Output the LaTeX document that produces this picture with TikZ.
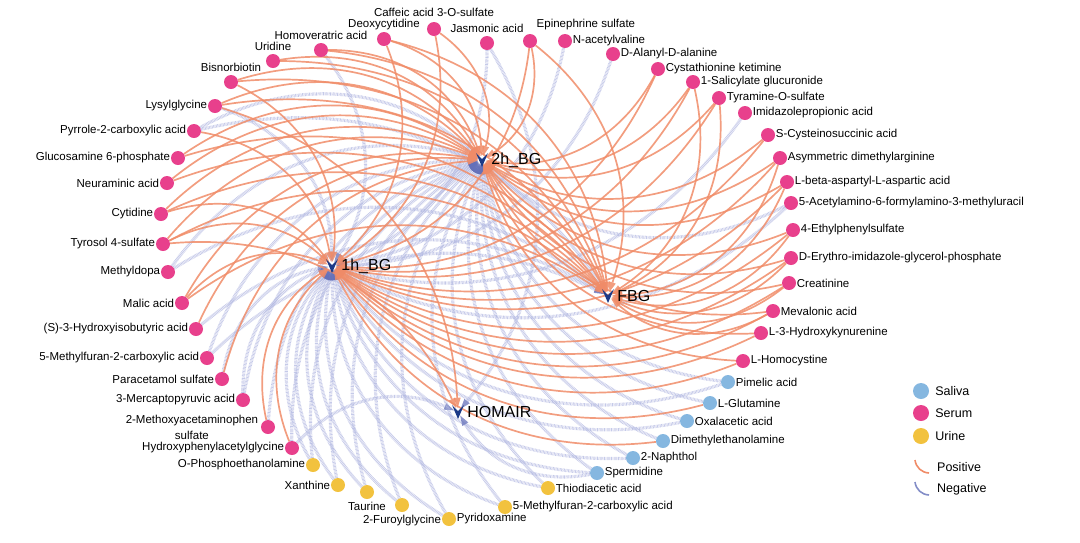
\documentclass[tikz,border=0pt]{standalone}
\usepackage{fontspec}
\setmainfont{Liberation Sans}
\usetikzlibrary{positioning,arrows.meta,backgrounds}
\definecolor{serumc}{RGB}{232,64,140}
\definecolor{salivac}{RGB}{133,183,224}
\definecolor{urinec}{RGB}{242,194,62}
\definecolor{posc}{RGB}{240,140,104}
\definecolor{negc}{RGB}{178,184,225}
\definecolor{negtip}{RGB}{100,112,185}
\definecolor{hubc}{RGB}{28,58,135}
\tikzset{
  dot/.style    = {circle, inner sep=0, minimum size=14pt},
  serum/.style  = {dot, fill=serumc},
  saliva/.style = {dot, fill=salivac},
  urine/.style  = {dot, fill=urinec},
  lab/.style    = {font=\fontsize{11.5}{16}\selectfont, inner sep=0.5pt, label distance=0pt},
  hub/.style    = {circle, inner sep=0, minimum size=8pt},
  hublab/.style = {font=\fontsize{16}{18}\selectfont, inner sep=0},
  plink/.style  = {draw=posc, line width=1.7pt, opacity=0.85, bend left=35,
                   -{Triangle[length=10pt,width=7pt,line width=0pt]}},
  nlink/.style  = {draw=negc, line width=3.2pt, dash pattern=on 0.7pt off 0.7pt, opacity=0.75, bend left=35,
                   -{Triangle[length=10pt,width=7pt,line width=0pt,color=negtip]}},
  key/.style    = {circle, inner sep=0, minimum size=16pt},
  keylab/.style = {font=\fontsize{12.5}{14}\selectfont, inner sep=0, anchor=west}
}
\begin{document}
\begin{tikzpicture}[x=1pt,y=-1pt]
  \useasboundingbox (0,0) rectangle (1080,542);
  % hubs
  \node[hub] (bg2)  at (482,160) {};
  \node[hub] (bg1)  at (332,266) {};
  \node[hub] (fbg)  at (608,296) {};
  \node[hub] (homa) at (458,412) {};
  % serum, top and left
  \node[serum, label={[lab,label distance=4pt]above:Caffeic acid 3-O-sulfate}] (caf) at (434,29) {};
  \node[serum, label={[lab,label distance=1pt]above:Deoxycytidine}] (deo) at (384,39) {};
  \node[serum, label={[lab,label distance=2pt]above:Homoveratric acid}] (hom) at (321,50) {};
  \node[serum, label={[lab,label distance=2pt]above:Uridine}] (uri) at (273,61) {};
  \node[serum, label={[lab,label distance=2pt]above:Bisnorbiotin}] (bis) at (231,82) {};
  \node[serum, label={[lab]left:Lysylglycine}] (lys) at (215,106) {};
  \node[serum, label={[lab]left:Pyrrole-2-carboxylic acid}] (pyr) at (194,131) {};
  \node[serum, label={[lab]left:Glucosamine 6-phosphate}] (glu) at (178,158) {};
  \node[serum, label={[lab]left:Neuraminic acid}] (neu) at (167,183) {};
  \node[serum, label={[lab]left:Cytidine}] (cyt) at (161,214) {};
  \node[serum, label={[lab]left:Tyrosol 4-sulfate}] (tyr) at (163,244) {};
  \node[serum, label={[lab]left:Methyldopa}] (mdo) at (168,272) {};
  \node[serum, label={[lab]left:Malic acid}] (mal) at (182,303) {};
  \node[serum, label={[lab]left:(S)-3-Hydroxyisobutyric acid}] (hib) at (196,329) {};
  \node[serum, label={[lab]left:5-Methylfuran-2-carboxylic acid}] (mfs) at (207,358) {};
  \node[serum, label={[lab]left:Paracetamol sulfate}] (par) at (222,379) {};
  \node[serum, label={[lab]left:3-Mercaptopyruvic acid}] (mer) at (243,400) {};
  \node[serum, label={[lab,align=center,xshift=-2pt]left:2-Methoxyacetaminophen\\sulfate}] (mea) at (268,427) {};
  \node[serum, label={[lab]left:Hydroxyphenylacetylglycine}] (hpg) at (292,448) {};
  % serum, top and right
  \node[serum, label={[lab,label distance=2pt]above:Jasmonic acid}] (jas) at (487,43) {};
  \node[serum, label={[lab,anchor=south west,xshift=6pt,yshift=3pt]90:Epinephrine sulfate}] (epi) at (530,41) {};
  \node[serum, label={[lab]right:N-acetylvaline}] (nav) at (565,41) {};
  \node[serum, label={[lab]right:D-Alanyl-D-alanine}] (daa) at (613,54) {};
  \node[serum, label={[lab]right:Cystathionine ketimine}] (cys) at (658,69) {};
  \node[serum, label={[lab]right:1-Salicylate glucuronide}] (sal) at (693,82) {};
  \node[serum, label={[lab]right:Tyramine-O-sulfate}] (tya) at (719,98) {};
  \node[serum, label={[lab]right:Imidazolepropionic acid}] (imi) at (745,113) {};
  \node[serum, label={[lab]right:S-Cysteinosuccinic acid}] (scs) at (768,135) {};
  \node[serum, label={[lab]right:Asymmetric dimethylarginine}] (adm) at (780,158) {};
  \node[serum, label={[lab]right:L-beta-aspartyl-L-aspartic acid}] (bas) at (787,182) {};
  \node[serum, label={[lab]right:5-Acetylamino-6-formylamino-3-methyluracil}] (aaf) at (791,203) {};
  \node[serum, label={[lab]right:4-Ethylphenylsulfate}] (eps) at (793,230) {};
  \node[serum, label={[lab]right:D-Erythro-imidazole-glycerol-phosphate}] (dei) at (791,258) {};
  \node[serum, label={[lab]right:Creatinine}] (cre) at (789,283) {};
  \node[serum, label={[lab]right:Mevalonic acid}] (mev) at (773,311) {};
  \node[serum, label={[lab]right:L-3-Hydroxykynurenine}] (hky) at (761,333) {};
  \node[serum, label={[lab]right:L-Homocystine}] (hcy) at (743,361) {};
  % saliva
  \node[saliva, label={[lab]right:Pimelic acid}] (pim) at (728,382) {};
  \node[saliva, label={[lab]right:L-Glutamine}] (gln) at (710,403) {};
  \node[saliva, label={[lab]right:Oxalacetic acid}] (oxa) at (687,421) {};
  \node[saliva, label={[lab]right:Dimethylethanolamine}] (dme) at (663,441) {};
  \node[saliva, label={[lab]right:2-Naphthol}] (nap) at (633,458) {};
  \node[saliva, label={[lab]right:Spermidine}] (spd) at (597,473) {};
  % urine
  \node[urine, label={[lab]right:Thiodiacetic acid}] (tda) at (548,488) {};
  \node[urine, label={[lab]right:5-Methylfuran-2-carboxylic acid}] (mfu) at (505,507) {};
  \node[urine, label={[lab]right:Pyridoxamine}] (pdx) at (449,519) {};
  \node[urine, label={[lab,label distance=2pt]below:2-Furoylglycine}] (fgl) at (402,505) {};
  \node[urine, label={[lab,label distance=2pt]below:Taurine}] (tau) at (367,492) {};
  \node[urine, label={[lab]left:Xanthine}] (xan) at (338,485) {};
  \node[urine, label={[lab]left:O-Phosphoethanolamine}] (pea) at (313,465) {};

  \begin{pgfonlayer}{background}
    % negative
    \draw[nlink] (hom) to (bg1);
    \draw[nlink] (lys) to (bg1);
    \draw[nlink] (pyr) to (bg2); \draw[nlink] (pyr) to (fbg);
    \draw[nlink] (mdo) to (bg2); \draw[nlink] (mdo) to (fbg);
    \draw[nlink] (hib) to (fbg);
    \draw[nlink] (mfs) to (bg2); \draw[nlink] (mfs) to (fbg);
    \draw[nlink] (par) to (bg1);
    \draw[nlink] (mer) to (bg1); \draw[nlink] (mer) to (bg2);
    \draw[nlink] (mea) to (bg2);
    \draw[nlink] (hpg) to (bg2); \draw[nlink] (hpg) to (homa);
    \draw[nlink] (jas) to (bg1); \draw[nlink] (jas) to (homa);
    \draw[nlink] (nav) to (bg1);
    \draw[nlink] (daa) to (bg1);
    \draw[nlink] (imi) to (bg1);
    \draw[nlink] (aaf) to (bg1); \draw[nlink] (aaf) to (bg2);
    \draw[nlink] (pim) to (bg1); \draw[nlink] (pim) to (bg2);
    \draw[nlink] (gln) to (bg2);
    \draw[nlink] (oxa) to (bg1); \draw[nlink] (oxa) to (bg2);
    \draw[nlink] (dme) to (bg2);
    \draw[nlink] (nap) to (bg1); \draw[nlink] (nap) to (bg2);
    \draw[nlink] (spd) to (bg1); \draw[nlink] (spd) to (bg2); \draw[nlink] (spd) to (homa);
    \draw[nlink] (tda) to (bg1); \draw[nlink] (tda) to (bg2);
    \draw[nlink] (mfu) to (bg1); \draw[nlink] (mfu) to (bg2);
    \draw[nlink] (pdx) to (bg1); \draw[nlink] (pdx) to (bg2);
    \draw[nlink] (fgl) to (bg1); \draw[nlink] (fgl) to (bg2);
    \draw[nlink] (tau) to (bg1); \draw[nlink] (tau) to (bg2);
    \draw[nlink] (xan) to (bg1); \draw[nlink] (xan) to (bg2);
    \draw[nlink] (pea) to (bg1); \draw[nlink] (pea) to (bg2);
    % positive
    \draw[plink] (caf) to (bg1); \draw[plink] (caf) to (bg2);
    \draw[plink] (deo) to (bg1); \draw[plink] (deo) to (bg2); \draw[plink] (deo) to (fbg);
    \draw[plink] (hom) to (bg2); \draw[plink] (hom) to (fbg);
    \draw[plink] (uri) to (bg2); \draw[plink] (uri) to (fbg);
    \draw[plink] (bis) to (bg1); \draw[plink] (bis) to (bg2); \draw[plink] (bis) to (fbg);
    \draw[plink] (lys) to (bg2); \draw[plink] (lys) to (fbg); \draw[plink] (lys) to (homa);
    \draw[plink] (pyr) to (bg1);
    \draw[plink] (glu) to (bg2); \draw[plink] (glu) to (fbg);
    \draw[plink] (neu) to (bg2); \draw[plink] (neu) to (fbg);
    \draw[plink] (cyt) to (bg1); \draw[plink] (cyt) to (bg2); \draw[plink] (cyt) to (fbg);
    \draw[plink] (tyr) to (bg1); \draw[plink] (tyr) to (bg2); \draw[plink] (tyr) to (fbg); \draw[plink] (tyr) to (homa);
    \draw[plink] (mal) to (bg1); \draw[plink] (mal) to (bg2); \draw[plink] (mal) to (fbg);
    \draw[plink] (hib) to (bg2);
    \draw[plink] (par) to (bg2);
    \draw[plink] (mea) to (bg1);
    \draw[plink] (hpg) to (bg1);
    \draw[plink] (epi) to (bg1); \draw[plink] (epi) to (bg2); \draw[plink] (epi) to (fbg);
    \draw[plink] (cys) to (bg1); \draw[plink] (cys) to (bg2);
    \draw[plink] (sal) to (bg1); \draw[plink] (sal) to (bg2); \draw[plink] (sal) to (fbg);
    \draw[plink] (tya) to (bg1); \draw[plink] (tya) to (bg2); \draw[plink] (tya) to (fbg);
    \draw[plink] (scs) to (bg1); \draw[plink] (scs) to (bg2);
    \draw[plink] (adm) to (bg1); \draw[plink] (adm) to (bg2); \draw[plink] (adm) to (fbg);
    \draw[plink] (bas) to (bg1); \draw[plink] (bas) to (bg2); \draw[plink] (bas) to (fbg);
    \draw[plink] (eps) to (bg1); \draw[plink] (eps) to (bg2); \draw[plink] (eps) to (fbg);
    \draw[plink] (dei) to (bg1); \draw[plink] (dei) to (bg2); \draw[plink] (dei) to (fbg);
    \draw[plink] (cre) to (bg1); \draw[plink] (cre) to (bg2); \draw[plink] (cre) to (fbg);
    \draw[plink] (mev) to (bg1); \draw[plink] (mev) to (bg2); \draw[plink] (mev) to (fbg);
    \draw[plink] (hky) to (bg1); \draw[plink] (hky) to (bg2);
    \draw[plink] (hcy) to (bg1); \draw[plink] (hcy) to (bg2);
    \draw[plink] (gln) to (bg1);
    \draw[plink] (dme) to (bg1);
  \end{pgfonlayer}

  % hub marks and names
  \fill[hubc, shift={(bg2.center)}]  (-6,-7) -- (0,7) -- (6,-7) -- (0,-1) -- cycle;
  \fill[hubc, shift={(bg1.center)}]  (-6,-7) -- (0,7) -- (6,-7) -- (0,-1) -- cycle;
  \fill[hubc, shift={(fbg.center)}]  (-6,-7) -- (0,7) -- (6,-7) -- (0,-1) -- cycle;
  \fill[hubc, shift={(homa.center)}] (-6,-7) -- (0,7) -- (6,-7) -- (0,-1) -- cycle;
  \node[hublab, right=5pt of bg2]  {2h\_BG};
  \node[hublab, right=5pt of bg1]  {1h\_BG};
  \node[hublab, right=5pt of fbg]  {FBG};
  \node[hublab, right=5pt of homa] {HOMAIR};

  % legend
  \node[key, fill=salivac] (ks) at (921,391) {}; \node[keylab, right=6pt of ks] {Saliva};
  \node[key, fill=serumc]  (kr) at (921,413) {}; \node[keylab, right=6pt of kr] {Serum};
  \node[key, fill=urinec]  (ku) at (921,436) {}; \node[keylab, right=6pt of ku] {Urine};
  \coordinate (pa) at (915,460); \coordinate (pb) at (929,473);
  \coordinate (na) at (915,482); \coordinate (nb) at (929,495);
  \draw[posc, line width=1.6pt] (pa) to[bend right=40] (pb);
  \draw[negtip!80, line width=1.6pt] (na) to[bend right=40] (nb);
  \node[keylab] (kp) at (937,467) {Positive};
  \node[keylab] (kn) at (937,489) {Negative};
\end{tikzpicture}
\end{document}
